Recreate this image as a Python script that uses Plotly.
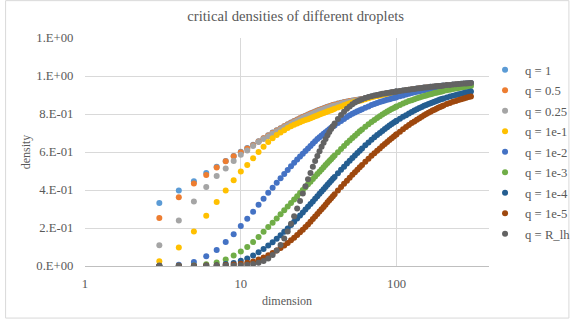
import plotly.graph_objects as go

# x values (dimension)
dims = (list(range(3, 41)) + list(range(42, 61, 2)) + list(range(63, 100, 3))
        + list(range(100, 201, 5)) + list(range(210, 301, 10)))

q_1 = [0.332, 0.397, 0.446, 0.490, 0.523, 0.553, 0.579, 0.601, 0.621, 0.638, 0.656, 0.673, 0.688, 0.702, 0.714, 0.725, 0.736, 0.746, 0.755, 0.763, 0.771, 0.778, 0.785, 0.791, 0.797, 0.803, 0.808, 0.813, 0.818, 0.822, 0.826, 0.830, 0.834, 0.838, 0.841, 0.844, 0.847, 0.850,
       0.855, 0.859, 0.863, 0.866, 0.869, 0.871, 0.873, 0.875, 0.877, 0.879,
       0.884, 0.888, 0.892, 0.896, 0.899, 0.902, 0.905, 0.907, 0.910, 0.912, 0.914, 0.916, 0.918,
       0.918, 0.921, 0.924, 0.926, 0.928, 0.930, 0.932, 0.934, 0.936, 0.937, 0.939, 0.940, 0.941, 0.943, 0.944, 0.945, 0.946, 0.947, 0.948, 0.949, 0.950,
       0.952, 0.953, 0.955, 0.956, 0.958, 0.959, 0.960, 0.961, 0.962, 0.963]

q_05 = [0.253, 0.362, 0.434, 0.479, 0.518, 0.551, 0.577, 0.599, 0.619, 0.636, 0.655, 0.672, 0.687, 0.701, 0.713, 0.724, 0.735, 0.745, 0.754, 0.762, 0.770, 0.777, 0.784, 0.790, 0.796, 0.802, 0.807, 0.812, 0.817, 0.821, 0.825, 0.829, 0.833, 0.837, 0.840, 0.843, 0.846, 0.849,
        0.854, 0.858, 0.862, 0.865, 0.868, 0.870, 0.872, 0.874, 0.876, 0.878,
        0.883, 0.887, 0.891, 0.895, 0.898, 0.901, 0.904, 0.906, 0.909, 0.911, 0.913, 0.915, 0.917,
        0.917, 0.920, 0.923, 0.925, 0.927, 0.929, 0.931, 0.933, 0.935, 0.936, 0.938, 0.939, 0.940, 0.942, 0.943, 0.944, 0.945, 0.946, 0.947, 0.948, 0.949,
        0.951, 0.952, 0.954, 0.955, 0.957, 0.958, 0.959, 0.960, 0.961, 0.962]

q_025 = [0.109, 0.240, 0.340, 0.416, 0.474, 0.513, 0.553, 0.585, 0.608, 0.632, 0.652, 0.668, 0.683, 0.697, 0.709, 0.720, 0.731, 0.741, 0.750, 0.758, 0.766, 0.773, 0.780, 0.786, 0.792, 0.798, 0.803, 0.808, 0.813, 0.817, 0.821, 0.825, 0.829, 0.833, 0.836, 0.839, 0.842, 0.845,
         0.850, 0.855, 0.859, 0.862, 0.865, 0.868, 0.870, 0.872, 0.874, 0.876,
         0.881, 0.886, 0.890, 0.894, 0.897, 0.900, 0.903, 0.905, 0.908, 0.910, 0.912, 0.914, 0.916,
         0.916, 0.919, 0.922, 0.924, 0.926, 0.928, 0.930, 0.932, 0.934, 0.935, 0.937, 0.938, 0.939, 0.941, 0.942, 0.943, 0.944, 0.945, 0.946, 0.947, 0.948,
         0.950, 0.951, 0.953, 0.954, 0.956, 0.957, 0.958, 0.959, 0.960, 0.961]

q_1e1 = [0.025, 0.097, 0.181, 0.265, 0.337, 0.398, 0.451, 0.497, 0.532, 0.567, 0.600, 0.628, 0.652, 0.672, 0.689, 0.703, 0.715, 0.726, 0.735, 0.743, 0.750, 0.757, 0.763, 0.768, 0.773, 0.778, 0.783, 0.788, 0.792, 0.797, 0.801, 0.805, 0.809, 0.813, 0.817, 0.820, 0.824, 0.827,
         0.834, 0.840, 0.846, 0.851, 0.856, 0.860, 0.864, 0.867, 0.870, 0.873,
         0.878, 0.883, 0.888, 0.892, 0.895, 0.898, 0.901, 0.903, 0.906, 0.908, 0.910, 0.912, 0.914,
         0.914, 0.917, 0.920, 0.922, 0.924, 0.926, 0.928, 0.930, 0.932, 0.933, 0.935, 0.936, 0.937, 0.939, 0.940, 0.941, 0.942, 0.943, 0.944, 0.945, 0.946,
         0.948, 0.949, 0.951, 0.952, 0.954, 0.955, 0.956, 0.957, 0.958, 0.959]

q_1e2 = [0.002, 0.007, 0.021, 0.051, 0.084, 0.126, 0.167, 0.211, 0.249, 0.286, 0.322, 0.354, 0.385, 0.412, 0.438, 0.462, 0.484, 0.505, 0.525, 0.543, 0.560, 0.576, 0.591, 0.605, 0.618, 0.632, 0.645, 0.657, 0.668, 0.678, 0.687, 0.696, 0.704, 0.712, 0.720, 0.727, 0.734, 0.740,
         0.752, 0.763, 0.774, 0.784, 0.793, 0.801, 0.808, 0.814, 0.820, 0.825,
         0.833, 0.840, 0.847, 0.853, 0.858, 0.863, 0.867, 0.871, 0.875, 0.878, 0.881, 0.884, 0.887,
         0.889, 0.893, 0.898, 0.903, 0.907, 0.911, 0.914, 0.917, 0.920, 0.923, 0.925, 0.928, 0.930, 0.932, 0.934, 0.936, 0.938, 0.940, 0.941, 0.943, 0.944,
         0.947, 0.949, 0.951, 0.953, 0.955, 0.957, 0.958, 0.960, 0.961, 0.962]

q_1e3 = [0.000, 0.001, 0.003, 0.009, 0.018, 0.034, 0.055, 0.076, 0.100, 0.126, 0.153, 0.180, 0.205, 0.228, 0.250, 0.272, 0.293, 0.313, 0.332, 0.350, 0.367, 0.384, 0.400, 0.415, 0.430, 0.444, 0.458, 0.471, 0.484, 0.496, 0.508, 0.520, 0.531, 0.542, 0.552, 0.562, 0.572, 0.581,
         0.599, 0.616, 0.632, 0.647, 0.661, 0.674, 0.686, 0.698, 0.709, 0.719,
         0.733, 0.746, 0.758, 0.769, 0.779, 0.788, 0.797, 0.805, 0.813, 0.820, 0.826, 0.832, 0.838,
         0.840, 0.848, 0.855, 0.862, 0.868, 0.873, 0.878, 0.883, 0.887, 0.891, 0.895, 0.898, 0.901, 0.904, 0.907, 0.910, 0.912, 0.915, 0.917, 0.919, 0.921,
         0.925, 0.928, 0.931, 0.934, 0.937, 0.939, 0.941, 0.943, 0.945, 0.947]

q_1e4 = [0.000, 0.000, 0.001, 0.002, 0.004, 0.010, 0.016, 0.028, 0.039, 0.055, 0.072, 0.090, 0.108, 0.125, 0.143, 0.162, 0.180, 0.198, 0.216, 0.233, 0.250, 0.266, 0.282, 0.297, 0.312, 0.326, 0.340, 0.354, 0.367, 0.380, 0.392, 0.404, 0.416, 0.427, 0.438, 0.449, 0.459, 0.469,
         0.488, 0.506, 0.523, 0.539, 0.554, 0.568, 0.582, 0.595, 0.607, 0.619,
         0.635, 0.650, 0.664, 0.677, 0.689, 0.700, 0.711, 0.721, 0.730, 0.739, 0.747, 0.755, 0.762,
         0.764, 0.775, 0.785, 0.794, 0.803, 0.811, 0.818, 0.825, 0.831, 0.837, 0.843, 0.848, 0.853, 0.857, 0.861, 0.865, 0.869, 0.872, 0.876, 0.879, 0.882,
         0.887, 0.892, 0.896, 0.900, 0.904, 0.907, 0.910, 0.913, 0.916, 0.919]

q_1e5 = [0.000, 0.001, 0.001, 0.002, 0.003, 0.005, 0.008, 0.012, 0.017, 0.024, 0.034, 0.045, 0.057, 0.069, 0.082, 0.095, 0.108, 0.121, 0.135, 0.149, 0.163, 0.177, 0.191, 0.205, 0.219, 0.233, 0.247, 0.261, 0.274, 0.287, 0.299, 0.311, 0.323, 0.335, 0.346, 0.357, 0.367, 0.377,
         0.397, 0.416, 0.433, 0.449, 0.465, 0.480, 0.494, 0.507, 0.520, 0.532,
         0.549, 0.565, 0.580, 0.594, 0.607, 0.619, 0.631, 0.642, 0.653, 0.663, 0.673, 0.682, 0.691,
         0.694, 0.707, 0.720, 0.731, 0.742, 0.752, 0.761, 0.770, 0.778, 0.786, 0.793, 0.800, 0.806, 0.812, 0.818, 0.823, 0.828, 0.833, 0.837, 0.841, 0.845,
         0.852, 0.858, 0.864, 0.869, 0.874, 0.878, 0.882, 0.886, 0.889, 0.892]

q_rlh = [0.000, 0.000, 0.000, 0.001, 0.001, 0.002, 0.002, 0.004, 0.006, 0.010, 0.017, 0.026, 0.040, 0.058, 0.082, 0.110, 0.145, 0.182, 0.222, 0.262, 0.302, 0.342, 0.382, 0.420, 0.456, 0.490, 0.522, 0.552, 0.579, 0.604, 0.627, 0.649, 0.669, 0.688, 0.705, 0.721, 0.736, 0.750,
         0.774, 0.795, 0.812, 0.827, 0.840, 0.851, 0.860, 0.867, 0.873, 0.878,
         0.884, 0.889, 0.893, 0.897, 0.900, 0.903, 0.906, 0.908, 0.910, 0.912, 0.914, 0.916, 0.918,
         0.918, 0.921, 0.924, 0.926, 0.928, 0.930, 0.932, 0.934, 0.936, 0.937, 0.939, 0.940, 0.941, 0.943, 0.944, 0.945, 0.946, 0.947, 0.948, 0.949, 0.950,
         0.952, 0.953, 0.955, 0.956, 0.958, 0.959, 0.960, 0.961, 0.962, 0.963]

series_names = ["q = 1", "q = 0.5", "q = 0.25", "q = 1e-1", "q = 1e-2",
                "q = 1e-3", "q = 1e-4", "q = 1e-5", "q = R_lh"]
series_values = [q_1, q_05, q_025, q_1e1, q_1e2, q_1e3, q_1e4, q_1e5, q_rlh]
colors = ["#5B9BD5", "#ED7D31", "#A5A5A5", "#FFC000", "#4472C4",
          "#70AD47", "#255E91", "#9E480E", "#636363"]

y_tickvals = [0, 0.2, 0.4, 0.6, 0.8, 1.0, 1.2]
y_ticktext = ["0.E+00", "2.E-01", "4.E-01", "6.E-01", "8.E-01", "1.E+00", "1.E+00"]
x_tickvals = [1, 10, 100]
x_ticktext = ["1", "10", "100"]

FONT = "Liberation Serif, Times New Roman, serif"
TXT = "#595959"

fig = go.Figure()
for name, vals, col in zip(series_names, series_values, colors):
    fig.add_trace(go.Scatter(x=dims, y=vals, mode="markers", name=name, legendgroup=name,
                             marker=dict(size=6, color=col, line=dict(width=0))))

fig.update_layout(
    width=574, height=322,
    margin=dict(l=84.5, r=85, t=38.3, b=56, autoexpand=False),
    paper_bgcolor="white", plot_bgcolor="white",
    font=dict(family=FONT, color=TXT, size=12.7),
    title=dict(text="critical densities of different droplets", x=0.515, xanchor="center",
               y=1 - 16 / 322, yanchor="middle",
               font=dict(family=FONT, size=14.7, color=TXT)),
    showlegend=True,
    legend=dict(x=0.9902, y=0.926, xanchor="left", yanchor="top",
                font=dict(family=FONT, size=12.7, color=TXT),
                itemwidth=30, tracegroupgap=1, bgcolor="rgba(0,0,0,0)"),
    xaxis=dict(type="log", range=[0, 2.593], tickvals=x_tickvals, ticktext=x_ticktext,
               showgrid=True, gridcolor="#D9D9D9", gridwidth=1,
               showline=True, linecolor="#BFBFBF", linewidth=1,
               ticks="outside", ticklen=6, tickcolor="rgba(0,0,0,0)",
               zeroline=False,
               title=dict(text="dimension", font=dict(family=FONT, size=12, color=TXT), standoff=6)),
    yaxis=dict(range=[0, 1.2], tickvals=y_tickvals, ticktext=y_ticktext,
               showgrid=True, gridcolor="#D9D9D9", gridwidth=1,
               showline=False, zeroline=False,
               ticks="outside", ticklen=8, tickcolor="rgba(0,0,0,0)",
               title=dict(text="density", font=dict(family=FONT, size=12, color=TXT), standoff=3)),
)

# chart-area border
fig.add_shape(type="rect", xref="paper", yref="paper",
              x0=(5 - 84.5) / 404.5, x1=(569 - 84.5) / 404.5,
              y0=(266 - 318) / 227.7, y1=(266 - 1) / 227.7,
              line=dict(color="#D9D9D9", width=1), fillcolor="rgba(0,0,0,0)", layer="below")

fig.write_html("out.html", config={"displayModeBar": False},
               post_script="document.body.style.margin='0';document.body.style.padding='0';")
